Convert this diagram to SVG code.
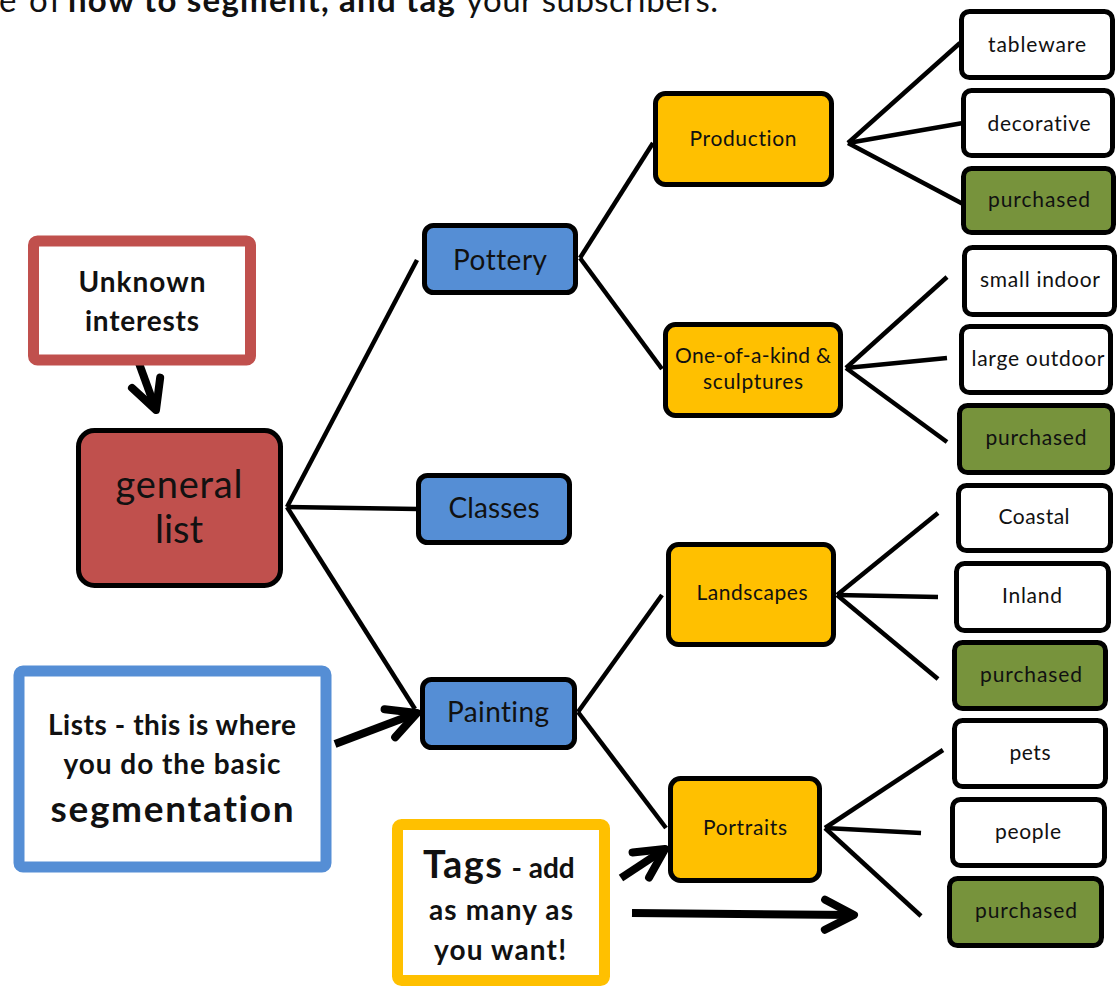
<svg xmlns="http://www.w3.org/2000/svg" width="1118" height="992" viewBox="0 0 1118 992">
  <defs>
    <style>
      text { font-family: Lato, "Liberation Sans", sans-serif; fill: #111; text-anchor: middle; font-variant-ligatures: none; font-feature-settings: "liga" 0, "clig" 0; }
      .node { stroke: #000; stroke-width: 5; }
      .blue { fill: #558ED5; }
      .yellow { fill: #FFC000; }
      .green { fill: #77933C; }
      .white { fill: #FFFFFF; }
      .red { fill: #C0504D; }
      .leaf { font-size: 21px; }
      .mid { font-size: 21px; }
      .top { font-size: 28px; }
      .callout { fill: #FFFFFF; stroke-width: 11; }
      .bold { font-weight: bold; }
      .conn line { stroke: #000; stroke-width: 4.5; stroke-linecap: butt; }
      .arrow { stroke: #000; stroke-width: 8; fill: none; }
    </style>
    <marker id="chev" markerUnits="userSpaceOnUse" viewBox="0 0 44 44" markerWidth="44" markerHeight="44" refX="38" refY="22" orient="auto">
      <path d="M9,7 L38,22 L9,37" fill="none" stroke="#000" stroke-width="8" stroke-linecap="round" stroke-linejoin="round"/>
    </marker>
  </defs>

  <rect x="0" y="0" width="1118" height="992" fill="#FFFFFF"/>

  <!-- title (cut off at the top edge, as in the source) -->
  <g id="title">
    <text x="-1" y="12" font-size="33" style="text-anchor:start" textLength="62">e of</text>
    <text x="68" y="12" font-size="33" class="bold" style="text-anchor:start" textLength="387">how to segment, and tag</text>
    <text x="466" y="12" font-size="33" style="text-anchor:start" textLength="252">your subscribers.</text>
  </g>

  <!-- connectors -->
  <g id="connectors" class="conn">
    <line x1="287" y1="507" x2="417" y2="260"/>
    <line x1="287" y1="507" x2="418" y2="509"/>
    <line x1="287" y1="507" x2="415" y2="709"/>
    <line x1="580" y1="258" x2="653" y2="143"/>
    <line x1="580" y1="258" x2="662" y2="369"/>
    <line x1="578" y1="712" x2="662" y2="595"/>
    <line x1="578" y1="712" x2="666" y2="828"/>
    <line x1="848" y1="143" x2="960" y2="43"/>
    <line x1="848" y1="143" x2="963" y2="123"/>
    <line x1="848" y1="143" x2="963" y2="204"/>
    <line x1="846" y1="368" x2="947" y2="277"/>
    <line x1="846" y1="368" x2="947" y2="358"/>
    <line x1="846" y1="368" x2="947" y2="442"/>
    <line x1="837" y1="595" x2="938" y2="513"/>
    <line x1="837" y1="595" x2="938" y2="597"/>
    <line x1="837" y1="595" x2="938" y2="679"/>
    <line x1="825" y1="828" x2="943" y2="750"/>
    <line x1="825" y1="828" x2="921" y2="833"/>
    <line x1="825" y1="828" x2="921" y2="916"/>
  </g>

  <!-- callout arrows -->
  <g id="callout-arrows">
    <line class="arrow" x1="136" y1="355" x2="156" y2="410" stroke-width="7" marker-end="url(#chev)"/>
    <line class="arrow" x1="335" y1="744" x2="417" y2="713" marker-end="url(#chev)"/>
    <line class="arrow" x1="621" y1="878" x2="665" y2="849" marker-end="url(#chev)"/>
    <line class="arrow" x1="632" y1="913" x2="854" y2="915" marker-end="url(#chev)"/>
  </g>

  <!-- callout boxes -->
  <g id="unknown-interests">
    <rect class="callout" x="33.5" y="241" width="217" height="119" rx="4" stroke="#C0504D"/>
    <text x="142" y="292" class="bold" font-size="28" textLength="127">Unknown</text>
    <text x="142" y="331" class="bold" font-size="28" textLength="114">interests</text>
  </g>

  <g id="lists-note">
    <rect class="callout" x="19" y="671" width="307" height="196" rx="4" stroke="#558ED5"/>
    <text x="172" y="735" class="bold" font-size="28" textLength="248">Lists - this is where</text>
    <text x="172" y="774" class="bold" font-size="28" textLength="217">you do the basic</text>
    <text x="172" y="822" class="bold" font-size="37" textLength="243">segmentation</text>
  </g>

  <g id="tags-note">
    <rect class="callout" x="397.5" y="824.5" width="207" height="156" rx="4" stroke="#FFC000"/>
    <text x="423" y="878" class="bold" style="text-anchor:start"><tspan font-size="38" textLength="79">Tags</tspan><tspan font-size="28" dx="8">- add</tspan></text>
    <text x="501" y="920" class="bold" font-size="28" textLength="144">as many as</text>
    <text x="500" y="960" class="bold" font-size="28" textLength="132">you want!</text>
  </g>

  <!-- root -->
  <g id="general-list">
    <rect class="node red" x="78.5" y="430.5" width="202" height="155" rx="16"/>
    <text x="179" y="498" font-size="38" textLength="127">general</text>
    <text x="179" y="543" font-size="38" textLength="48">list</text>
  </g>

  <!-- level 1 -->
  <g id="pottery">
    <rect class="node blue" x="424.5" y="225.5" width="151" height="67" rx="9"/>
    <text class="top" x="500" y="270" textLength="94">Pottery</text>
  </g>
  <g id="classes">
    <rect class="node blue" x="418.5" y="475.5" width="151" height="67" rx="9"/>
    <text class="top" x="494" y="518" textLength="91">Classes</text>
  </g>
  <g id="painting">
    <rect class="node blue" x="422.5" y="679.5" width="152" height="68" rx="9"/>
    <text class="top" x="498" y="722" textLength="102">Painting</text>
  </g>

  <!-- level 2 -->
  <g id="production">
    <rect class="node yellow" x="655.5" y="93.5" width="176" height="91" rx="10"/>
    <text class="mid" x="743" y="146" textLength="107">Production</text>
  </g>
  <g id="one-of-a-kind">
    <rect class="node yellow" x="665.5" y="324.5" width="175" height="91" rx="10"/>
    <text class="mid" x="753" y="363" textLength="156">One-of-a-kind &amp;</text>
    <text class="mid" x="753" y="389" textLength="100">sculptures</text>
  </g>
  <g id="landscapes">
    <rect class="node yellow" x="668.5" y="544.5" width="165" height="100" rx="10"/>
    <text class="mid" x="752" y="600" textLength="111">Landscapes</text>
  </g>
  <g id="portraits">
    <rect class="node yellow" x="670.5" y="778.5" width="149" height="102" rx="10"/>
    <text class="mid" x="745" y="835" textLength="84">Portraits</text>
  </g>

  <!-- level 3 -->
  <g id="tableware">
    <rect class="node white" x="961.5" y="11.5" width="151" height="66" rx="8"/>
    <text class="leaf" x="1037" y="52" textLength="98">tableware</text>
  </g>
  <g id="decorative">
    <rect class="node white" x="963.5" y="90.5" width="149" height="65" rx="8"/>
    <text class="leaf" x="1039" y="131" textLength="103">decorative</text>
  </g>
  <g id="purchased-production">
    <rect class="node green" x="963.5" y="168.5" width="150" height="64" rx="8"/>
    <text class="leaf" x="1039" y="207" textLength="102">purchased</text>
  </g>
  <g id="small-indoor">
    <rect class="node white" x="964.5" y="247.5" width="150" height="67" rx="8"/>
    <text class="leaf" x="1040" y="287" textLength="120">small indoor</text>
  </g>
  <g id="large-outdoor">
    <rect class="node white" x="961.5" y="326.5" width="149" height="66" rx="8"/>
    <text class="leaf" x="1038" y="366" textLength="133">large outdoor</text>
  </g>
  <g id="purchased-sculptures">
    <rect class="node green" x="959.5" y="405.5" width="153" height="67" rx="8"/>
    <text class="leaf" x="1036" y="445" textLength="101">purchased</text>
  </g>
  <g id="coastal">
    <rect class="node white" x="958.5" y="485.5" width="152" height="65" rx="8"/>
    <text class="leaf" x="1034" y="524" textLength="71">Coastal</text>
  </g>
  <g id="inland">
    <rect class="node white" x="956.5" y="563.5" width="152" height="67" rx="8"/>
    <text class="leaf" x="1032" y="603" textLength="60">Inland</text>
  </g>
  <g id="purchased-landscapes">
    <rect class="node green" x="954.5" y="642.5" width="151" height="66" rx="8"/>
    <text class="leaf" x="1031" y="682" textLength="102">purchased</text>
  </g>
  <g id="pets">
    <rect class="node white" x="954.5" y="720.5" width="151" height="66" rx="8"/>
    <text class="leaf" x="1030" y="760" textLength="41">pets</text>
  </g>
  <g id="people">
    <rect class="node white" x="952.5" y="799.5" width="152" height="66" rx="8"/>
    <text class="leaf" x="1028" y="839" textLength="66">people</text>
  </g>
  <g id="purchased-portraits">
    <rect class="node green" x="949.5" y="878.5" width="152" height="67" rx="8"/>
    <text class="leaf" x="1026" y="918" textLength="102">purchased</text>
  </g>
</svg>
